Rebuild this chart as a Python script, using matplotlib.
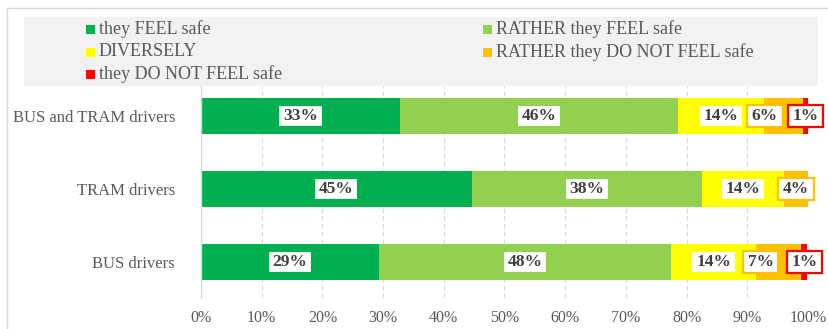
import matplotlib
matplotlib.use("Agg")
import matplotlib.pyplot as plt
from matplotlib.patches import Rectangle
from matplotlib.path import Path

categories = ["BUS drivers", "TRAM drivers", "BUS and TRAM drivers"]
series_names = ["they FEEL safe", "RATHER they FEEL safe", "DIVERSELY",
                "RATHER they DO NOT FEEL safe", "they DO NOT FEEL safe"]
feel = [29.3, 44.6, 32.8]
rather_feel = [48.1, 37.9, 45.8]
diversely = [14.1, 13.6, 14.1]
rather_not = [7.4, 3.9, 6.4]
not_feel = [1.0, 0.0, 0.9]
x_ticks = [0, 10, 20, 30, 40, 50, 60, 70, 80, 90, 100]

series = [feel, rather_feel, diversely, rather_not, not_feel]
colors = ["#00B050", "#92D050", "#FFFF00", "#FFC000", "#FF0000"]


class RectPad:
    """Rectangular box with separate horizontal / vertical padding."""
    def __init__(self, padx, pady):
        self.padx = padx
        self.pady = pady

    def __call__(self, x0, y0, width, height, mutation_size):
        px = self.padx * mutation_size
        py = self.pady * mutation_size
        x0, y0 = x0 - px, y0 - py
        x1, y1 = x0 + width + 2 * px, y0 + height + 2 * py
        return Path([(x0, y0), (x1, y0), (x1, y1), (x0, y1), (x0, y0)],
                    [Path.MOVETO, Path.LINETO, Path.LINETO, Path.LINETO, Path.CLOSEPOLY])


W, H = 829, 329
fig = plt.figure(figsize=(W / 100, H / 100), dpi=100)
fig.patch.set_facecolor("white")

def fx(px):
    return px / W

def fy(py):
    return 1 - py / H

# outer chart border
fig.patches.append(Rectangle((fx(7), fy(345)), fx(840) - fx(7), fy(8) - fy(345),
                             transform=fig.transFigure, fill=False,
                             edgecolor="#D9D9D9", lw=1.0, zorder=0))

ax = fig.add_axes([fx(201), fy(298), fx(808) - fx(201), fy(86) - fy(298)])
ax.set_xlim(0, 100)
ax.set_ylim(-0.493, 2.411)

ypos = list(range(len(categories)))
left = [0.0] * len(categories)
bar_h = 0.493
for vals, col in zip(series, colors):
    ax.barh(ypos, vals, left=left, height=bar_h, color=col, edgecolor="none", zorder=2)
    left = [l + v for l, v in zip(left, vals)]

# data labels
lefts = [0.0] * len(categories)
for si, (vals, col) in enumerate(zip(series, colors)):
    for i, v in enumerate(vals):
        if v > 0:
            xc = lefts[i] + v / 2
            nxt = series[si + 1][i] if si + 1 < len(series) else 0
            if v < 10 and nxt > 0:
                xc -= 3
            ax.text(xc, ypos[i], f"{round(v):d}%", ha="center", va="center",
                    fontsize=12.5, fontweight="bold", family="Liberation Serif",
                    color="#404040", zorder=5,
                    bbox=dict(boxstyle=RectPad(0.27, 0.19), facecolor="white",
                              edgecolor=col, lw=1.6))
        lefts[i] += v

ax.set_xticks(x_ticks)
ax.set_xticklabels([f"{t}%" for t in x_ticks], family="Liberation Serif",
                   fontsize=11.5, color="#595959")
ax.set_yticks(ypos)
ax.set_yticklabels(categories, family="Liberation Serif", fontsize=12, color="#595959")
ax.tick_params(axis="x", length=0, pad=9)
ax.tick_params(axis="y", length=0, pad=18.7)
ax.grid(axis="x", color="#D9D9D9", lw=0.8, linestyle=(0, (4, 3)), zorder=1)
ax.set_axisbelow(True)
for s in ["top", "right", "bottom"]:
    ax.spines[s].set_visible(False)
ax.spines["left"].set_color("#D9D9D9")
ax.spines["left"].set_linewidth(1.0)
ax.spines["left"].set_zorder(3)

# legend background
fig.patches.append(Rectangle((fx(24), fy(86)), fx(818) - fx(24), fy(17) - fy(86),
                             transform=fig.transFigure, facecolor="#F2F2F2",
                             edgecolor="none", zorder=3))
# legend entries (row-wise, 2 columns)
col_x = [86, 483]
row_y = [29, 52, 74]
for k, (name, col) in enumerate(zip(series_names, colors)):
    r, c = divmod(k, 2)
    mx = col_x[c]
    my = row_y[r]
    fig.patches.append(Rectangle((fx(mx), fy(my + 4.5)), fx(9), 9 / H,
                                 transform=fig.transFigure, facecolor=col,
                                 edgecolor="none", zorder=4))
    fig.text(fx(mx + 13), fy(my), name, ha="left", va="center",
             family="Liberation Serif", fontsize=13, color="#595959", zorder=5)

fig.savefig("out.png", dpi=100, facecolor="white")
